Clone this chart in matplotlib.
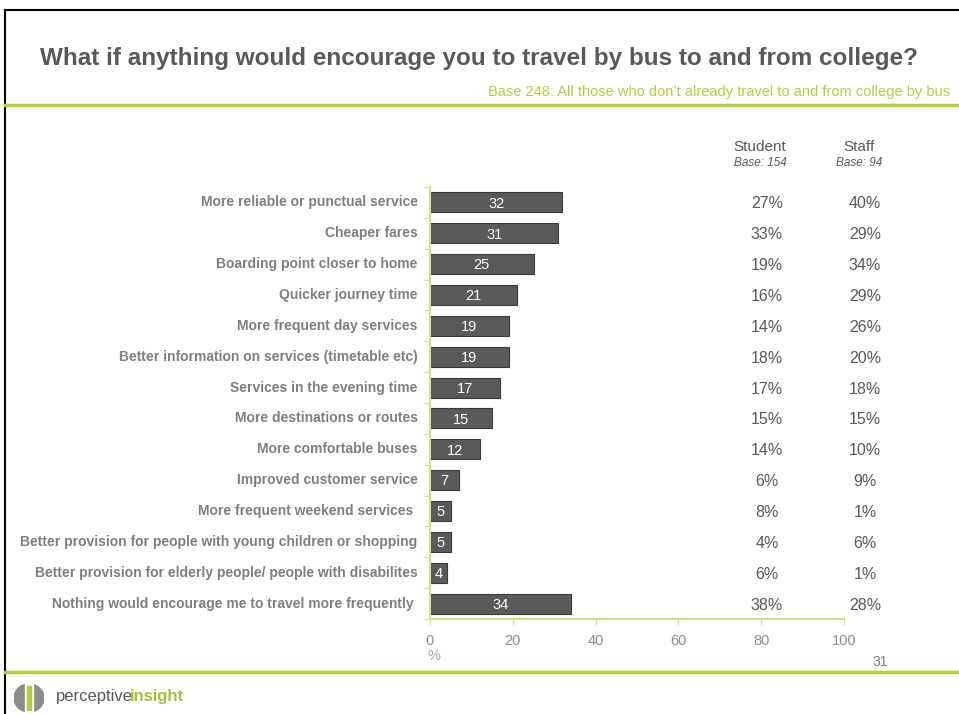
import matplotlib.pyplot as plt
from matplotlib.patches import Rectangle, Ellipse
from matplotlib.lines import Line2D

plt.rcParams['font.family'] = ['Liberation Sans', 'DejaVu Sans']

# data
categories = [
    'More reliable or punctual service',
    'Cheaper fares',
    'Boarding point closer to home',
    'Quicker journey time',
    'More frequent day services',
    'Better information on services (timetable etc)',
    'Services in the evening time',
    'More destinations or routes',
    'More comfortable buses',
    'Improved customer service',
    'More frequent weekend services ',
    'Better provision for people with young children or shopping',
    'Better provision for elderly people/ people with disabilites',
    'Nothing would encourage me to travel more frequently ',
]
total = [32, 31, 25, 21, 19, 19, 17, 15, 12, 7, 5, 5, 4, 34]
student = [27, 33, 19, 16, 14, 18, 17, 15, 14, 6, 8, 4, 6, 38]
staff = [40, 29, 34, 29, 26, 20, 18, 15, 10, 9, 1, 6, 1, 28]
xticks = [0, 20, 40, 60, 80, 100]

green = '#b5cf3a'
light_green = '#d4e27e'
grey_txt = '#595959'
label_grey = '#7f7f7f'

W, H = 959, 714
fig = plt.figure(figsize=(W / 100, H / 100), dpi=100)

def fx(px):
    return px / W

def fy(py):
    return 1 - py / H

# slide frame
fig.add_artist(Line2D([fx(5), fx(5)], [fy(10), 0], color='black', lw=1.5))
fig.add_artist(Line2D([fx(5), 1], [fy(10), fy(10)], color='black', lw=1.5))
fig.add_artist(Line2D([fx(5), 1], [fy(105), fy(105)], color=green, lw=2.5))
fig.add_artist(Line2D([fx(5), 1], [fy(672), fy(672)], color=green, lw=2.5))

fig.text(fx(40), fy(58), 'What if anything would encourage you to travel by bus to and from college?',
         fontsize=17.5, fontweight='bold', color=grey_txt, va='center', ha='left')
fig.text(fx(950), fy(92), 'Base 248: All those who don\u2019t already travel to and from college by bus',
         fontsize=10.5, color=green, va='center', ha='right')

# main chart
ax = fig.add_axes([fx(430), fy(619), fx(844 - 430), (619 - 187) / H])
n = len(categories)
ypos = list(range(n))
ax.barh(ypos, total, height=0.65, color='#5a5a5a', edgecolor='#3a3a3a', linewidth=0.8)
for y, v in zip(ypos, total):
    ax.text(v / 2, y + 0.04, str(v), color='white', fontsize=10.5, ha='center', va='center')
ax.set_ylim(n - 0.5, -0.5)
ax.set_xlim(0, 100)
ax.set_yticks([i - 0.5 for i in range(n + 1)])
ax.set_yticklabels([])
for y, c in zip(ypos, categories):
    ax.text(-3, y, c, fontsize=10, fontweight='bold', color=label_grey, ha='right', va='center')
ax.set_xticks(xticks)
ax.set_xticklabels([str(t) for t in xticks])
ax.tick_params(axis='x', colors=light_green, labelcolor='#8c8c8c', labelsize=10.5, length=4, pad=7)
ax.tick_params(axis='y', colors=light_green, length=4)
for s in ['top', 'right']:
    ax.spines[s].set_visible(False)
for s in ['left', 'bottom']:
    ax.spines[s].set_color(light_green)
    ax.spines[s].set_linewidth(1.5)

# student / staff columns
tr = ax.get_yaxis_transform()
fig.text(fx(760), fy(147), 'Student', fontsize=11, color=grey_txt, ha='center', va='center')
fig.text(fx(760), fy(163), 'Base: 154', fontsize=8.5, style='italic', color=grey_txt, ha='center', va='center')
fig.text(fx(859), fy(147), 'Staff', fontsize=11, color=grey_txt, ha='center', va='center')
fig.text(fx(859), fy(163), 'Base: 94', fontsize=8.5, style='italic', color=grey_txt, ha='center', va='center')
for y, a, b in zip(ypos, student, staff):
    ax.text((767 - 430) / 414, y + 0.05, f'{a}%', transform=tr, fontsize=11.5, color=grey_txt,
            ha='center', va='center', clip_on=False)
    ax.text((865 - 430) / 414, y + 0.05, f'{b}%', transform=tr, fontsize=11.5, color=grey_txt,
            ha='center', va='center', clip_on=False)

fig.text(fx(434), fy(656), '%', fontsize=10.5, color='#a6a6a6', ha='center', va='center')

# footer
fig.text(fx(880), fy(662), '31', fontsize=10, color='#7f7f7f', ha='center', va='center')
lax = fig.add_axes([fx(14), fy(712), fx(30), 28 / H])
lax.set_xlim(0, 1)
lax.set_ylim(0, 1)
lax.axis('off')
lax.add_patch(Ellipse((0.5, 0.5), 1.0, 1.0, color='#8c8c8c'))
lax.add_patch(Rectangle((0.36, 0.0), 0.26, 1.0, color='white'))
lax.add_patch(Rectangle((0.44, 0.06), 0.14, 0.88, color='#b5cf3a'))
fig.text(fx(56), fy(696), 'perceptive', fontsize=12, color='#595959', ha='left', va='center')
fig.text(fx(130), fy(696), 'insight', fontsize=12, color='#a5c13a', fontweight='bold', ha='left', va='center')

fig.savefig('out.png', dpi=100)
